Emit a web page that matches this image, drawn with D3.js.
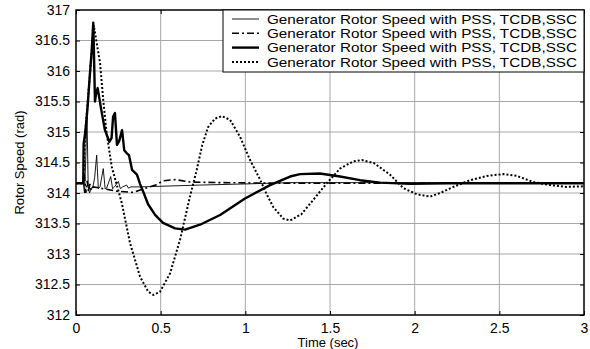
<!DOCTYPE html>
<html><head><meta charset="utf-8">
<script src="https://cdn.jsdelivr.net/npm/d3@7"></script>
<style>body{margin:0;background:#fff}svg{display:block}text{font-family:"Liberation Sans",Arial,sans-serif;fill:#000}</style>
</head><body><svg id="c" width="590" height="349"></svg>
<script>
const xTicks = [0, 0.5, 1, 1.5, 2, 2.5, 3];
const yTicks = [312, 312.5, 313, 313.5, 314, 314.5, 315, 315.5, 316, 316.5, 317];
const xTickLabels = ["0", "0.5", "1", "1.5", "2", "2.5", "3"];
const yTickLabels = ["312", "312.5", "313", "313.5", "314", "314.5", "315", "315.5", "316", "316.5", "317"];
const legendLabels = [
  "Generator Rotor Speed with PSS, TCDB,SSC",
  "Generator Rotor Speed with PSS, TCDB,SSC",
  "Generator Rotor Speed with PSS, TCDB,SSC",
  "Generator Rotor Speed with PSS, TCDB,SSC"
];
const xLabel = "Time (sec)";
const yLabel = "Rotor Speed (rad)";

// series 1: thin solid
const thinSeries = [[0,314.16],[0.043,314.16],[0.05,314.0],[0.058,314.6],[0.065,315.25],[0.072,314.1],[0.08,314.0],[0.09,314.08],[0.1,314.1],[0.11,314.25],[0.122,314.62],[0.132,314.07],[0.142,314.1],[0.161,314.4],[0.172,314.07],[0.181,314.08],[0.205,314.27],[0.216,314.07],[0.227,314.1],[0.25,314.19],[0.262,314.07],[0.275,314.1],[0.299,314.13],[0.31,314.08],[0.325,314.1],[0.378,314.1],[0.732,314.13],[1.02,314.15],[1.264,314.17],[3,314.17]];
// series 2: dash-dot
const dashDotSeries = [[0,314.16],[0.043,314.16],[0.05,314.3],[0.058,314.0],[0.066,314.2],[0.074,314.02],[0.082,314.15],[0.09,314.04],[0.1,314.1],[0.142,314.08],[0.24,314.03],[0.34,314.01],[0.4,314.07],[0.47,314.13],[0.514,314.2],[0.585,314.22],[0.674,314.18],[0.85,314.17],[1.2,314.16],[3,314.16]];
// series 3: thick solid
const thickSeries = [[0,314.16],[0.043,314.16],[0.045,314.8],[0.055,315.0],[0.067,315.36],[0.083,315.98],[0.093,316.34],[0.102,316.79],[0.106,316.3],[0.112,315.5],[0.12,315.65],[0.128,315.72],[0.15,315.35],[0.171,315.03],[0.197,314.84],[0.21,314.9],[0.219,315.25],[0.23,315.31],[0.242,314.79],[0.255,314.85],[0.272,315.03],[0.285,314.7],[0.3,314.65],[0.313,314.62],[0.331,314.38],[0.36,314.3],[0.378,314.15],[0.4,314.0],[0.425,313.82],[0.467,313.64],[0.514,313.51],[0.585,313.42],[0.644,313.4],[0.732,313.48],[0.851,313.64],[0.998,313.91],[1.146,314.13],[1.264,314.27],[1.323,314.31],[1.441,314.32],[1.559,314.27],[1.677,314.21],[1.796,314.17],[1.973,314.15],[2.2,314.16],[3,314.16]];
// series 4: dotted
const dottedSeries = [[0,314.16],[0.043,314.16],[0.055,315.0],[0.083,315.98],[0.105,316.75],[0.142,316.13],[0.161,315.52],[0.181,314.98],[0.211,314.43],[0.27,313.84],[0.319,313.18],[0.378,312.63],[0.427,312.38],[0.457,312.33],[0.496,312.38],[0.555,312.68],[0.614,313.23],[0.673,313.94],[0.713,314.38],[0.745,314.78],[0.78,315.08],[0.821,315.22],[0.861,315.26],[0.91,315.2],[0.969,314.92],[1.028,314.54],[1.087,314.22],[1.126,313.98],[1.165,313.77],[1.224,313.58],[1.264,313.55],[1.33,313.65],[1.402,313.89],[1.481,314.16],[1.559,314.4],[1.638,314.52],[1.688,314.54],[1.76,314.49],[1.855,314.3],[1.933,314.08],[2.012,313.98],[2.091,313.94],[2.15,314.0],[2.229,314.1],[2.327,314.21],[2.426,314.28],[2.524,314.31],[2.603,314.28],[2.701,314.18],[2.8,314.13],[2.898,314.1],[3,314.11]];

const svg = d3.select("#c");
const L = 76, R = 584, T = 10, B = 315;
const x = d3.scaleLinear().domain([0, 3]).range([L, R]);
const y = d3.scaleLinear().domain([312, 317]).range([B, T]);

// grid
const g = svg.append("g");
g.selectAll(".vx").data(xTicks.slice(1, -1)).join("line")
  .attr("x1", d => x(d)).attr("x2", d => x(d)).attr("y1", T).attr("y2", B)
  .attr("stroke", "#a8a8a8").attr("stroke-width", 1);
g.selectAll(".hy").data(yTicks.slice(1, -1)).join("line")
  .attr("x1", L).attr("x2", R).attr("y1", d => y(d)).attr("y2", d => y(d))
  .attr("stroke", "#a8a8a8").attr("stroke-width", 1);

// axes
svg.append("g").attr("transform", `translate(0,${B})`)
  .call(d3.axisBottom(x).tickValues(xTicks).tickFormat((d, i) => xTickLabels[i]).tickSize(-4).tickPadding(8));
svg.append("g").attr("transform", `translate(${L},0)`)
  .call(d3.axisLeft(y).tickValues(yTicks).tickFormat((d, i) => yTickLabels[i]).tickSize(-4).tickPadding(6));
svg.append("g").attr("transform", `translate(0,${T})`)
  .call(d3.axisTop(x).tickValues(xTicks).tickFormat("").tickSize(-4));
svg.append("g").attr("transform", `translate(${R},0)`)
  .call(d3.axisRight(y).tickValues(yTicks).tickFormat("").tickSize(-4));
svg.selectAll(".domain").remove();
svg.selectAll(".tick line").attr("stroke", "#000");
svg.selectAll(".tick text").style("font-size", "14px").style("font-family", "Liberation Sans, Arial, sans-serif");

// lines
const line = d3.line().x(d => x(d[0])).y(d => y(d[1]));
svg.append("clipPath").attr("id", "clp").append("rect").attr("x", L).attr("y", T).attr("width", R - L).attr("height", B - T);
const lg = svg.append("g").attr("clip-path", "url(#clp)");
lg.append("path").datum(thinSeries).attr("d", line).attr("fill", "none").attr("stroke", "#000").attr("stroke-width", 0.9);
lg.append("path").datum(dashDotSeries).attr("d", line).attr("fill", "none").attr("stroke", "#000").attr("stroke-width", 1.6).attr("stroke-dasharray", "7,3,2,3");
lg.append("path").datum(dottedSeries).attr("d", line).attr("fill", "none").attr("stroke", "#000").attr("stroke-width", 2).attr("stroke-dasharray", "2,2");
lg.append("path").datum(thickSeries).attr("d", line).attr("fill", "none").attr("stroke", "#000").attr("stroke-width", 2.4).attr("stroke-linejoin", "round");

// frame
svg.append("rect").attr("x", L).attr("y", T).attr("width", R - L).attr("height", B - T)
  .attr("fill", "none").attr("stroke", "#000").attr("stroke-width", 1.5);

// legend
const leg = svg.append("g");
leg.append("rect").attr("x", 223).attr("y", 10).attr("width", 361).attr("height", 62)
  .attr("fill", "#fff").attr("stroke", "#000").attr("stroke-width", 1);
const styles = [
  {w: 0.9, dash: null},
  {w: 1.6, dash: "7,3,2,3"},
  {w: 2.4, dash: null},
  {w: 2, dash: "2,2"}
];
legendLabels.forEach((lab, i) => {
  const yy = 19 + i * 14.3;
  const ln = leg.append("line").attr("x1", 232).attr("x2", 259).attr("y1", yy).attr("y2", yy)
    .attr("stroke", "#000").attr("stroke-width", styles[i].w);
  if (styles[i].dash) ln.attr("stroke-dasharray", styles[i].dash);
  leg.append("text").attr("x", 267).attr("y", yy).attr("dy", "0.36em")
    .style("font-size", "13.5px").attr("textLength", 310).attr("lengthAdjust", "spacingAndGlyphs").text(lab);
});

// axis labels
svg.append("text").attr("x", 328).attr("y", 342).attr("dy", "0.35em").attr("text-anchor", "middle")
  .style("font-size", "13px").text(xLabel);
svg.append("text").attr("transform", "translate(19,162.5) rotate(-90)").attr("dy", "0.35em").attr("text-anchor", "middle")
  .style("font-size", "13px").text(yLabel);
</script></body></html>
